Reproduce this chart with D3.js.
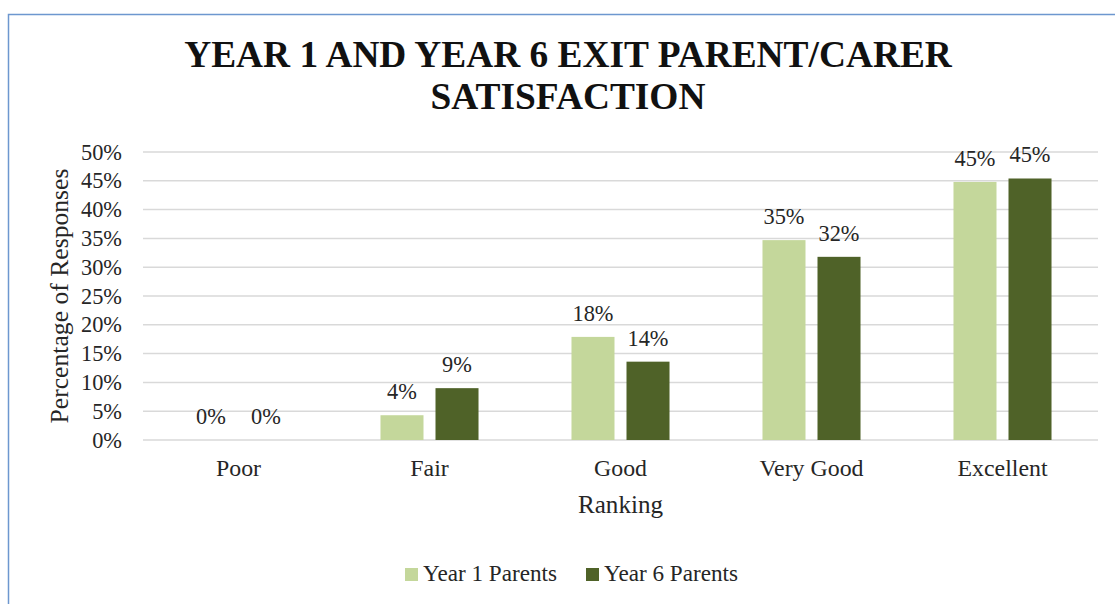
<!DOCTYPE html>
<html>
<head>
<meta charset="utf-8">
<script src="https://cdn.jsdelivr.net/npm/d3@7"></script>
<style>
  html, body { margin: 0; padding: 0; background: #fff; }
  svg { display: block; font-family: "Liberation Serif", Tinos, "Times New Roman", serif; }
</style>
</head>
<body>
<svg id="chart" width="1115" height="604"></svg>
<script>
// Survey results: share of responses per ranking
const categories = ["Poor", "Fair", "Good", "Very Good", "Excellent"];
const seriesNames = ["Year 1 Parents", "Year 6 Parents"];
const year1Values = [0.00, 0.043, 0.179, 0.347, 0.448];
const year6Values = [0.00, 0.090, 0.136, 0.318, 0.454];
const yTicks = [0, 0.05, 0.10, 0.15, 0.20, 0.25, 0.30, 0.35, 0.40, 0.45, 0.50];
const titleLines = ["YEAR 1 AND YEAR 6 EXIT PARENT/CARER", "SATISFACTION"];
const xAxisTitle = "Ranking";
const yAxisTitle = "Percentage of Responses";

const colors = { "Year 1 Parents": "#c4d79b", "Year 6 Parents": "#4f6228" };
const textColor = "#262626";
const pct = d3.format(".0%");

const svg = d3.select("#chart");
const W = 1115, H = 604;
const plot = { left: 143, right: 1098, top: 152, bottom: 440 };

// Pick a font size so a sample string spans the wanted width in the serif face in use
function fitSize(sample, width, weight) {
  const probe = svg.append("text").attr("font-size", 100).attr("font-weight", weight || "normal").text(sample);
  const w = probe.node().getComputedTextLength();
  probe.remove();
  return 100 * width / w;
}
const titleSize = fitSize(titleLines[0], 768, "bold");
const tickSize = fitSize("50%", 41);
const catSize = fitSize("Very Good", 104);
const xTitleSize = fitSize(xAxisTitle, 85);
const yTitleSize = fitSize(yAxisTitle, 255);
const legendSize = fitSize(seriesNames[0], 134);

// Chart frame
svg.append("rect")
  .attr("x", 8.5).attr("y", 14.5)
  .attr("width", W + 20).attr("height", H + 20)
  .attr("fill", "#fff")
  .attr("stroke", "#6d97cf").attr("stroke-width", 1.5);

// Title
const title = svg.append("text")
  .attr("text-anchor", "middle")
  .attr("font-weight", "bold")
  .attr("font-size", titleSize)
  .attr("fill", "#111");
titleLines.forEach((t, i) => {
  title.append("tspan").attr("x", 568).attr("y", 67 + i * 41.5).text(t);
});

const x0 = d3.scaleBand().domain(categories).range([plot.left, plot.right]);
const x1 = d3.scaleBand().domain(seriesNames).range([0, x0.bandwidth()])
  .paddingInner(12 / 55).paddingOuter(0.845);
const y = d3.scaleLinear().domain([0, 0.5]).range([plot.bottom, plot.top]);

// Gridlines
svg.append("g")
  .selectAll("line")
  .data(yTicks)
  .join("line")
  .attr("x1", plot.left).attr("x2", plot.right)
  .attr("y1", d => y(d)).attr("y2", d => y(d))
  .attr("stroke", "#d9d9d9").attr("stroke-width", 1.5);

// Y axis labels
const yAxis = d3.axisLeft(y).tickValues(yTicks).tickFormat(pct).tickSize(0).tickPadding(21);
const gy = svg.append("g").attr("transform", `translate(${plot.left},0)`).call(yAxis)
  .attr("font-family", null).attr("font-size", tickSize);
gy.select(".domain").remove();
gy.selectAll("text").attr("fill", textColor).attr("dy", "0.32em");

// X axis labels
const xAxis = d3.axisBottom(x0).tickSize(0).tickPadding(0);
const gx = svg.append("g").attr("transform", `translate(0,${plot.bottom})`).call(xAxis)
  .attr("font-family", null).attr("font-size", catSize);
gx.select(".domain").remove();
gx.selectAll("text").attr("fill", textColor).attr("y", 36).attr("dy", null);

// Bars
const rows = categories.map((c, i) => ({
  category: c,
  values: [
    { key: seriesNames[0], value: year1Values[i] },
    { key: seriesNames[1], value: year6Values[i] }
  ]
}));

const groups = svg.append("g").selectAll("g")
  .data(rows)
  .join("g")
  .attr("transform", d => `translate(${x0(d.category)},0)`);

groups.selectAll("rect")
  .data(d => d.values)
  .join("rect")
  .attr("x", d => x1(d.key))
  .attr("width", x1.bandwidth())
  .attr("y", d => y(d.value))
  .attr("height", d => y(0) - y(d.value))
  .attr("fill", d => colors[d.key]);

groups.selectAll("text")
  .data(d => d.values)
  .join("text")
  .attr("x", d => x1(d.key) + x1.bandwidth() / 2)
  .attr("y", d => y(d.value) - 16)
  .attr("text-anchor", "middle")
  .attr("font-size", tickSize)
  .attr("fill", textColor)
  .text(d => pct(d.value));

// Axis titles
svg.append("text")
  .attr("x", (plot.left + plot.right) / 2).attr("y", 513)
  .attr("text-anchor", "middle")
  .attr("font-size", xTitleSize)
  .attr("fill", textColor)
  .text(xAxisTitle);

svg.append("text")
  .attr("transform", `translate(68,${(plot.top + plot.bottom) / 2}) rotate(-90)`)
  .attr("text-anchor", "middle")
  .attr("font-size", yTitleSize)
  .attr("fill", textColor)
  .text(yAxisTitle);

// Legend
const legendX = [405, 586];
const legend = svg.append("g").selectAll("g")
  .data(seriesNames)
  .join("g")
  .attr("transform", (d, i) => `translate(${legendX[i]},568)`);
legend.append("rect")
  .attr("width", 13).attr("height", 13)
  .attr("fill", d => colors[d]);
legend.append("text")
  .attr("x", 18).attr("y", 13)
  .attr("font-size", legendSize)
  .attr("fill", textColor)
  .text(d => d);
</script>
</body>
</html>
